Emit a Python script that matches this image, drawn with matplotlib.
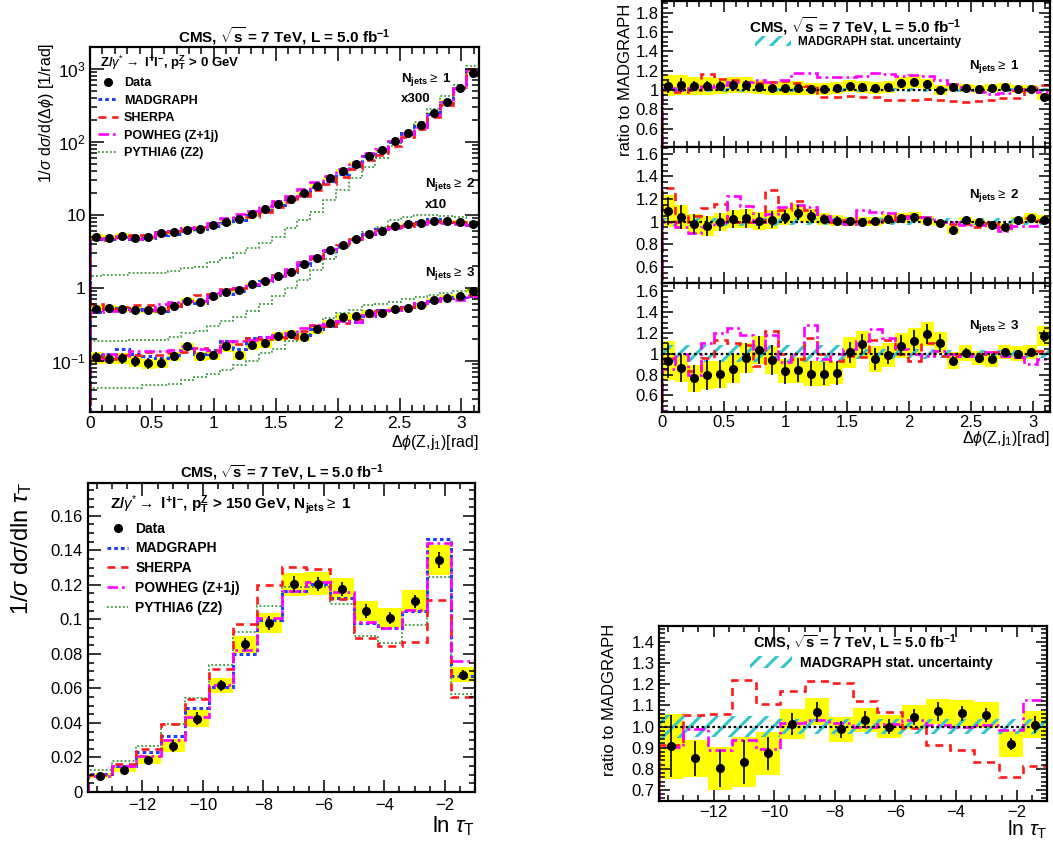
import numpy as np
import matplotlib
matplotlib.use("Agg")
import matplotlib.pyplot as plt
from matplotlib.lines import Line2D
from matplotlib.patches import Patch
from matplotlib.ticker import MultipleLocator, LogLocator, FuncFormatter, NullFormatter, FixedLocator

plt.rcParams['font.family'] = ['Liberation Sans', 'DejaVu Sans']
plt.rcParams['mathtext.fontset'] = 'custom'
plt.rcParams['mathtext.rm'] = 'Liberation Sans'
plt.rcParams['mathtext.it'] = 'Liberation Sans:italic'
plt.rcParams['mathtext.bf'] = 'Liberation Sans:bold'
plt.rcParams['hatch.linewidth'] = 2.2

# ---- delta phi(Z, j1): 30 bins in [0, pi], values as drawn (Njets>=1 x300, >=2 x10)
dphi_data_1j_x300 = [4.94, 4.9, 5.2, 4.8, 5.0, 5.6, 5.8, 6.3, 6.5, 7.2, 7.9, 8.7, 10.2, 11.9, 14.3,
                     16.5, 19.8, 25, 31.6, 40, 50, 63.6, 77, 102, 133, 171, 247, 357, 549, 890]
dphi_data_2j_x10 = [0.515, 0.53, 0.52, 0.50, 0.50, 0.50, 0.575, 0.67, 0.64, 0.78, 0.88, 0.94, 1.12, 1.26, 1.47,
                    1.68, 2.1, 2.6, 3.3, 3.9, 4.7, 5.5, 6.0, 7.0, 7.5, 7.7, 8.3, 8.2, 8.1, 7.5]
dphi_data_3j = [0.112, 0.107, 0.110, 0.100, 0.093, 0.095, 0.116, 0.158, 0.116, 0.12, 0.158, 0.12, 0.167, 0.175, 0.22,
                0.235, 0.215, 0.27, 0.33, 0.40, 0.41, 0.46, 0.46, 0.51, 0.53, 0.58, 0.68, 0.74, 0.77, 0.92]

dphi_pythia_1j_x300 = [1.48, 1.50, 1.52, 1.58, 1.60, 1.62, 1.72, 1.90, 1.96, 2.29, 2.57, 3.0, 3.5, 4.1, 5.0,
                       6.6, 8.5, 11.1, 15.9, 22, 32.6, 45, 61, 87, 132, 190, 280, 420, 600, 1100]
dphi_pythia_2j_x10 = [0.19, 0.19, 0.19, 0.195, 0.195, 0.195, 0.21, 0.24, 0.26, 0.30, 0.35, 0.40, 0.49, 0.60, 0.78,
                      1.0, 1.28, 1.75, 2.5, 3.5, 4.6, 5.9, 6.9, 8.5, 9.5, 10.0, 10.0, 9.8, 9.3, 8.0]
dphi_pythia_3j = [0.042, 0.042, 0.042, 0.042, 0.047, 0.047, 0.049, 0.055, 0.060, 0.067, 0.075, 0.088, 0.10, 0.127, 0.148,
                  0.19, 0.235, 0.30, 0.39, 0.45, 0.50, 0.58, 0.61, 0.65, 0.70, 0.76, 0.80, 0.85, 0.90, 0.94]

# ratios to MadGraph
ratio_data_1j = [1.045, 1.05, 1.045, 1.04, 1.045, 1.05, 1.05, 1.03, 1.02, 1.02, 1.02, 1.01, 1.01, 1.02, 1.045,
                 1.035, 1.02, 1.035, 1.07, 1.085, 1.06, 1.0, 1.03, 1.025, 1.01, 1.02, 1.03, 1.01, 1.01, 0.93]
ratio_sherpa_1j = [1.0, 0.98, 1.0, 1.16, 1.11, 1.10, 1.08, 1.07, 1.08, 1.09, 1.07, 1.04, 0.93, 0.93, 0.94,
                   0.93, 0.93, 0.9, 0.9, 0.9, 0.91, 0.9, 0.89, 0.88, 0.89, 0.9, 0.915, 0.92, 1.03, 1.05]
ratio_powheg_1j = [1.02, 1.0, 1.02, 1.03, 1.05, 1.08, 1.08, 1.1, 1.08, 1.1, 1.18, 1.18, 1.13, 1.13, 1.13,
                   1.14, 1.18, 1.17, 1.14, 1.15, 1.14, 1.10, 1.06, 1.03, 0.98, 0.96, 0.97, 1.0, 1.0, 0.98]

ratio_data_2j = [1.096, 1.04, 0.98, 0.965, 1.0, 1.025, 1.03, 1.01, 1.02, 1.045, 1.08, 1.05, 1.027, 1.01, 1.003,
                 1.0, 1.003, 1.025, 1.033, 1.042, 1.01, 0.99, 0.93, 1.015, 0.997, 0.973, 0.955, 1.015, 1.033, 1.02]
ratio_sherpa_2j = [1.3, 1.0, 1.05, 1.12, 1.16, 1.0, 1.0, 1.0, 1.28, 1.1, 1.18, 1.1, 1.03, 1.0, 1.02,
                   1.01, 1.0, 1.02, 1.05, 1.04, 1.0, 1.0, 0.98, 0.98, 0.95, 0.99, 0.95, 1.0, 1.03, 1.02]
ratio_powheg_2j = [1.0, 0.95, 0.9, 0.95, 1.0, 1.23, 1.14, 1.0, 1.07, 1.13, 1.15, 1.13, 1.05, 1.02, 0.98,
                   1.1, 1.09, 1.08, 1.03, 1.05, 1.04, 1.0, 1.0, 0.97, 0.97, 0.95, 0.92, 0.96, 0.96, 1.0]

ratio_data_3j = [0.934, 0.862, 0.764, 0.797, 0.803, 0.856, 0.96, 1.033, 0.941, 0.836, 0.843, 0.81, 0.81, 0.816, 1.013,
                 1.092, 0.948, 0.987, 1.079, 1.125, 1.19, 1.105, 0.934, 1.007, 0.96, 0.951, 1.016, 1.0, 1.016, 1.17]
ratio_sherpa_3j = [0.96, 0.87, 0.83, 0.96, 1.13, 1.1, 1.08, 0.88, 1.22, 1.0, 0.95, 1.15, 1.0, 0.93, 0.98,
                   0.97, 1.13, 1.13, 1.0, 0.93, 1.1, 0.98, 0.98, 1.0, 1.0, 1.02, 0.98, 0.97, 1.0, 1.03]
ratio_powheg_3j = [0.85, 1.0, 0.8, 1.1, 1.2, 1.25, 1.18, 1.05, 1.18, 0.92, 1.0, 1.28, 0.95, 1.0, 1.05,
                   1.12, 1.24, 1.15, 1.05, 1.0, 0.98, 1.03, 1.0, 0.98, 1.0, 1.02, 0.98, 0.97, 0.9, 0.95]

# relative uncertainties (stat = error bar, tot = yellow box, mg = MadGraph stat hatch)
stat_1j = [0.07, 0.07, 0.05, 0.05, 0.05, 0.05, 0.05, 0.04, 0.04, 0.04, 0.035, 0.03, 0.03, 0.03, 0.03,
           0.03, 0.025, 0.025, 0.025, 0.02, 0.02, 0.02, 0.02, 0.02, 0.015, 0.015, 0.015, 0.015, 0.015, 0.015]
tot_1j = [0.10, 0.10, 0.09, 0.09, 0.08, 0.08, 0.08, 0.07, 0.07, 0.07, 0.07, 0.06, 0.06, 0.06, 0.06,
          0.06, 0.06, 0.06, 0.06, 0.06, 0.05, 0.05, 0.04, 0.04, 0.04, 0.04, 0.04, 0.04, 0.04, 0.04]
mg_1j = [0.025, 0.025, 0.025, 0.025, 0.025, 0.025, 0.025, 0.025, 0.025, 0.025, 0.025, 0.025, 0.025, 0.025, 0.025,
         0.025, 0.025, 0.025, 0.025, 0.025, 0.025, 0.025, 0.025, 0.025, 0.025, 0.025, 0.025, 0.025, 0.025, 0.025]
stat_2j = [0.11, 0.10, 0.09, 0.09, 0.08, 0.08, 0.08, 0.07, 0.07, 0.06, 0.06, 0.05, 0.04, 0.04, 0.04,
           0.035, 0.03, 0.03, 0.03, 0.03, 0.025, 0.025, 0.02, 0.02, 0.02, 0.02, 0.02, 0.02, 0.02, 0.02]
tot_2j = [0.13, 0.10, 0.09, 0.09, 0.08, 0.08, 0.08, 0.08, 0.08, 0.07, 0.07, 0.06, 0.05, 0.05, 0.04,
          0.04, 0.04, 0.04, 0.04, 0.04, 0.04, 0.03, 0.04, 0.03, 0.03, 0.03, 0.04, 0.03, 0.04, 0.04]
mg_2j = [0.035, 0.035, 0.035, 0.035, 0.035, 0.035, 0.035, 0.035, 0.035, 0.03, 0.03, 0.03, 0.03, 0.03, 0.03,
         0.03, 0.03, 0.03, 0.03, 0.03, 0.03, 0.03, 0.03, 0.03, 0.03, 0.03, 0.03, 0.03, 0.03, 0.03]
stat_3j = [0.18, 0.16, 0.17, 0.18, 0.17, 0.16, 0.15, 0.13, 0.15, 0.15, 0.14, 0.15, 0.14, 0.14, 0.10,
           0.09, 0.11, 0.09, 0.09, 0.09, 0.08, 0.08, 0.05, 0.05, 0.05, 0.05, 0.04, 0.04, 0.04, 0.05]
tot_3j = [0.20, 0.15, 0.17, 0.17, 0.16, 0.16, 0.15, 0.13, 0.14, 0.14, 0.15, 0.15, 0.15, 0.13, 0.15,
          0.12, 0.13, 0.12, 0.11, 0.11, 0.10, 0.09, 0.09, 0.08, 0.07, 0.08, 0.07, 0.07, 0.07, 0.08]
mg_3j = [0.08, 0.08, 0.08, 0.08, 0.08, 0.08, 0.08, 0.08, 0.08, 0.08, 0.08, 0.08, 0.08, 0.08, 0.05,
         0.05, 0.05, 0.05, 0.05, 0.05, 0.05, 0.04, 0.04, 0.04, 0.04, 0.04, 0.04, 0.04, 0.04, 0.04]

# ---- ln tau_T: 16 bins in [-13.8, -1.0], pT(Z) > 150 GeV
tau_data = [0.0095, 0.013, 0.0188, 0.0268, 0.0425, 0.0617, 0.0855, 0.098, 0.1204, 0.1206, 0.1175, 0.1047,
            0.1007, 0.1104, 0.1344, 0.0679]
tau_ratio_data = [0.907, 0.849, 0.802, 0.833, 0.873, 1.011, 1.069, 0.986, 1.033, 1.0, 1.046, 1.071,
                  1.063, 1.055, 0.917, 1.008]
tau_ratio_sherpa = [0.915, 1.055, 1.06, 1.22, 1.105, 1.17, 1.215, 1.205, 1.12, 1.07, 0.995, 0.915,
                    0.89, 0.83, 0.76, 0.815]
tau_ratio_powheg = [0.905, 0.99, 0.89, 0.935, 0.895, 1.015, 1.03, 1.015, 1.0, 1.01, 1.03, 1.005,
                    1.0, 1.005, 0.983, 1.127]
tau_pythia = [0.0126, 0.0182, 0.0268, 0.0392, 0.0547, 0.0737, 0.0925, 0.108, 0.119, 0.119, 0.109, 0.0906,
              0.0863, 0.097, 0.1245, 0.057]
tau_stat = [0.16, 0.095, 0.11, 0.125, 0.09, 0.05, 0.045, 0.04, 0.04, 0.035, 0.035, 0.04, 0.033, 0.033, 0.033, 0.04]
tau_tot = [0.17, 0.105, 0.125, 0.14, 0.115, 0.07, 0.06, 0.06, 0.055, 0.056, 0.055, 0.056, 0.057, 0.058, 0.065, 0.063]
tau_mg = [0.055, 0.05, 0.05, 0.05, 0.05, 0.035, 0.035, 0.035, 0.035, 0.035, 0.035, 0.035, 0.035, 0.035, 0.035, 0.035]

dphi_edges = np.linspace(0, np.pi, 31)
tau_edges = np.linspace(-13.8, -1.0, 17)

YELLOW = '#ffff00'
BLUE = '#1f3fff'
RED = '#ff1a1a'
MAGENTA = '#ff00ff'
GREEN = '#3a9a3a'
CYAN = '#33c6cc'
LS_MG = (0, (1.2, 1.0))
LS_SH = (0, (3.0, 2.2))
LS_PW = (0, (4.0, 1.5, 1.0, 1.5))
LS_PY = (0, (1.0, 1.2))
HATCH = '//'

TITLE = r'CMS, $\sqrt{\mathbf{s}}$ = 7 TeV, L = 5.0 fb$^{\mathbf{-1}}$'
MG_NAME = 'MADGRAPH'

W, H = 1053, 841
fig = plt.figure(figsize=(W / 100, H / 100), dpi=100)


def add_ax(x0, y0, x1, y1):
    return fig.add_axes([x0 / W, 1 - y1 / H, (x1 - x0) / W, (y1 - y0) / H])


def root_style(ax, major=8, minor=4, size=11, pad=4):
    ax.tick_params(which='both', direction='in', top=True, right=True, width=1.1, labelsize=size, pad=pad)
    ax.tick_params(which='major', length=major)
    ax.tick_params(which='minor', length=minor)
    for s in ax.spines.values():
        s.set_linewidth(1.6)


def draw_main(ax, edges, data, r_data, r_sh, r_pw, pythia, stat, tot):
    data = np.asarray(data)
    tot = np.asarray(tot)
    mg = data / np.asarray(r_data)
    ax.stairs(data * (1 + tot), edges, baseline=data * (1 - tot), fill=True, color=YELLOW, lw=0)
    ax.stairs(pythia, edges, color=GREEN, ls=LS_PY, lw=1.3)
    ax.stairs(mg, edges, color=BLUE, ls=LS_MG, lw=2.2)
    ax.stairs(mg * np.asarray(r_sh), edges, color=RED, ls=LS_SH, lw=1.9)
    ax.stairs(mg * np.asarray(r_pw), edges, color=MAGENTA, ls=LS_PW, lw=1.9)
    c = 0.5 * (edges[1:] + edges[:-1])
    ax.errorbar(c, data, yerr=data * np.asarray(stat), fmt='o', color='k', ms=5.5,
                elinewidth=1.2, capsize=0, zorder=5)


def draw_ratio(ax, edges, r_data, r_sh, r_pw, stat, tot, mg_unc):
    r = np.asarray(r_data)
    tot = np.asarray(tot)
    u = np.asarray(mg_unc)
    ax.stairs(r * (1 + tot), edges, baseline=r * (1 - tot), fill=True, color=YELLOW, lw=0)
    ax.stairs(1 + u, edges, baseline=1 - u, fill=True, facecolor='none', edgecolor=CYAN, hatch=HATCH, lw=0)
    ax.axhline(1.0, color='k', ls=(0, (1.2, 1.2)), lw=1.6)
    ax.stairs(r_sh, edges, color=RED, ls=LS_SH, lw=1.9)
    ax.stairs(r_pw, edges, color=MAGENTA, ls=LS_PW, lw=1.9)
    c = 0.5 * (edges[1:] + edges[:-1])
    ax.errorbar(c, r, yerr=r * np.asarray(stat), fmt='o', color='k', ms=5.5,
                elinewidth=1.2, capsize=0, zorder=5)


def legend_handles():
    return [Line2D([], [], marker='o', ls='none', color='k', ms=5.5),
            Line2D([], [], color=BLUE, ls=LS_MG, lw=2.2),
            Line2D([], [], color=RED, ls=LS_SH, lw=1.9),
            Line2D([], [], color=MAGENTA, ls=LS_PW, lw=1.9),
            Line2D([], [], color=GREEN, ls=LS_PY, lw=1.3)]


labels = ['Data', MG_NAME, 'SHERPA', 'POWHEG (Z+1j)', 'PYTHIA6 (Z2)']
hatch_handle = Patch(facecolor='none', edgecolor=CYAN, hatch=HATCH, lw=0)


def njets(n):
    return r'N$_{\mathbf{jets}}\geq$ ' + str(n)


# ================= top left: delta phi distributions
ax = add_ax(90, 47, 479, 412)
draw_main(ax, dphi_edges, dphi_data_1j_x300, ratio_data_1j, ratio_sherpa_1j, ratio_powheg_1j,
          dphi_pythia_1j_x300, stat_1j, tot_1j)
draw_main(ax, dphi_edges, dphi_data_2j_x10, ratio_data_2j, ratio_sherpa_2j, ratio_powheg_2j,
          dphi_pythia_2j_x10, stat_2j, tot_2j)
draw_main(ax, dphi_edges, dphi_data_3j, ratio_data_3j, ratio_sherpa_3j, ratio_powheg_3j,
          dphi_pythia_3j, stat_3j, tot_3j)
ax.set_yscale('log')
ax.set_xlim(0, np.pi)
ax.set_ylim(0.02, 2000)
ax.xaxis.set_major_locator(MultipleLocator(0.5))
ax.xaxis.set_minor_locator(MultipleLocator(0.1))
ax.xaxis.set_major_formatter(FuncFormatter(lambda v, p: '%g' % v))
ax.yaxis.set_major_locator(LogLocator(base=10))
ax.yaxis.set_minor_locator(LogLocator(base=10, subs=np.arange(2, 10)))
ax.yaxis.set_minor_formatter(NullFormatter())
ax.yaxis.set_major_formatter(FuncFormatter(
    lambda v, p: {1: '1', 10: '10'}.get(int(round(v)) if v >= 1 else -1, r'$10^{%d}$' % round(np.log10(v)))))
root_style(ax, major=10, minor=5, size=12.5, pad=3)
ax.set_title(TITLE, fontsize=11, fontweight='bold', pad=3)
ax.text(0.026, 0.958, r'Z/$\gamma^{*}\rightarrow$ l$^{\mathbf{+}}$l$^{\mathbf{-}}$, p$_{\mathbf{T}}^{\mathbf{Z}}$ > 0 GeV',
        transform=ax.transAxes, fontsize=9.5, fontweight='bold', va='center')
ax.legend(legend_handles(), labels, loc='upper left', bbox_to_anchor=(0.02, 0.918), frameon=False,
          prop={'weight': 'bold', 'size': 9}, handlelength=1.6, handletextpad=0.5, labelspacing=0.45,
          borderpad=0, borderaxespad=0)
ax.text(0.80, 0.91, njets(1), transform=ax.transAxes, fontsize=9.5, fontweight='bold', va='center')
ax.text(0.80, 0.857, 'x300', transform=ax.transAxes, fontsize=9.5, fontweight='bold', va='center')
ax.text(0.86, 0.622, njets(2), transform=ax.transAxes, fontsize=9.5, fontweight='bold', va='center')
ax.text(0.86, 0.567, 'x10', transform=ax.transAxes, fontsize=9.5, fontweight='bold', va='center')
ax.text(0.86, 0.38, njets(3), transform=ax.transAxes, fontsize=9.5, fontweight='bold', va='center')
fig.text(46 / W, 1 - 113 / H, r'1/$\sigma$ d$\sigma$/d($\Delta\phi$) [1/rad]', rotation=90,
         ha='center', va='center', fontsize=11.5)
fig.text(479 / W, 1 - 442 / H, r'$\Delta\phi$(Z,j$_{1}$)[rad]', ha='right', va='center', fontsize=11.5)

# ================= top right: ratio panels
panels = [(1, 147, (0.41, 1.92), [0.6, 0.8, 1.0, 1.2, 1.4, 1.6, 1.8],
           ratio_data_1j, ratio_sherpa_1j, ratio_powheg_1j, stat_1j, tot_1j, mg_1j),
          (147, 283, (0.46, 1.66), [0.6, 0.8, 1.0, 1.2, 1.4, 1.6],
           ratio_data_2j, ratio_sherpa_2j, ratio_powheg_2j, stat_2j, tot_2j, mg_2j),
          (283, 412, (0.44, 1.68), [0.6, 0.8, 1.0, 1.2, 1.4, 1.6],
           ratio_data_3j, ratio_sherpa_3j, ratio_powheg_3j, stat_3j, tot_3j, mg_3j)]
njet_y = [0.55, 0.647, 0.66]
for i, (y0, y1, ylim, yt, rd, rs, rp, st, to, mu) in enumerate(panels):
    ax = add_ax(662, y0, 1050, y1)
    draw_ratio(ax, dphi_edges, rd, rs, rp, st, to, mu)
    ax.set_xlim(0, np.pi)
    ax.set_ylim(*ylim)
    ax.yaxis.set_major_locator(FixedLocator(yt))
    ax.yaxis.set_minor_locator(MultipleLocator(0.05))
    ax.yaxis.set_major_formatter(FuncFormatter(lambda v, p: '%g' % round(v, 2)))
    ax.xaxis.set_major_locator(MultipleLocator(0.5))
    ax.xaxis.set_minor_locator(MultipleLocator(0.1))
    ax.xaxis.set_major_formatter(FuncFormatter(lambda v, p: '%g' % v))
    root_style(ax, major=8, minor=4, size=12, pad=2.5)
    if i < 2:
        ax.tick_params(labelbottom=False)
    ax.text(0.79, njet_y[i], njets(i + 1), transform=ax.transAxes, fontsize=9.5,
            fontweight='bold', va='center')
    if i == 0:
        ax.text(0.497, 0.83, TITLE, transform=ax.transAxes, fontsize=11, fontweight='bold',
                ha='center', va='center')
        ax.legend([hatch_handle], [MG_NAME + ' stat. uncertainty'], loc='center left',
                  bbox_to_anchor=(0.24, 0.72), frameon=False, prop={'weight': 'bold', 'size': 8.5},
                  handlelength=3.0, handleheight=1.0, handletextpad=0.6, borderpad=0, borderaxespad=0)
fig.text(626 / W, 1 - 80 / H, 'ratio to ' + MG_NAME, rotation=90, ha='center', va='center', fontsize=12)
fig.text(1050 / W, 1 - 439 / H, r'$\Delta\phi$(Z,j$_{1}$)[rad]', ha='right', va='center', fontsize=11.5)

# ================= bottom left: ln tau_T
ax = add_ax(88, 483, 475, 792)
draw_main(ax, tau_edges, tau_data, tau_ratio_data, tau_ratio_sherpa, tau_ratio_powheg,
          tau_pythia, tau_stat, tau_tot)
ax.set_xlim(-13.8, -1.0)
ax.set_ylim(0, 0.179)
ax.xaxis.set_major_locator(FixedLocator([-12, -10, -8, -6, -4, -2]))
ax.xaxis.set_minor_locator(MultipleLocator(0.5))
ax.yaxis.set_major_locator(MultipleLocator(0.02))
ax.yaxis.set_minor_locator(MultipleLocator(0.005))
ax.yaxis.set_major_formatter(FuncFormatter(lambda v, p: '%g' % round(v, 3)))
root_style(ax, major=9, minor=4.5, size=12)
ax.set_title(TITLE, fontsize=10.5, fontweight='bold', pad=3)
ax.text(0.057, 0.929,
        r'Z/$\gamma^{*}\rightarrow$ l$^{\mathbf{+}}$l$^{\mathbf{-}}$, p$_{\mathbf{T}}^{\mathbf{Z}}$ > 150 GeV, '
        + njets(1), transform=ax.transAxes, fontsize=11, fontweight='bold', va='center')
ax.legend(legend_handles(), labels, loc='upper left', bbox_to_anchor=(0.05, 0.875), frameon=False,
          prop={'weight': 'bold', 'size': 10}, handlelength=1.5, handletextpad=0.5, labelspacing=0.42,
          borderpad=0, borderaxespad=0)
fig.text(22 / W, 1 - 548 / H, r'1/$\sigma$ d$\sigma$/dln $\tau_{\mathrm{T}}$', rotation=90,
         ha='center', va='center', fontsize=17)
fig.text(475 / W, 1 - 826 / H, r'ln $\tau_{\mathrm{T}}$', ha='right', va='center', fontsize=16)

# ================= bottom right: ln tau_T ratio
ax = add_ax(659, 626, 1047, 801)
draw_ratio(ax, tau_edges, tau_ratio_data, tau_ratio_sherpa, tau_ratio_powheg, tau_stat, tau_tot, tau_mg)
ax.set_xlim(-13.8, -1.0)
ax.set_ylim(0.648, 1.475)
ax.xaxis.set_major_locator(FixedLocator([-12, -10, -8, -6, -4, -2]))
ax.xaxis.set_minor_locator(MultipleLocator(0.5))
ax.yaxis.set_major_locator(MultipleLocator(0.1))
ax.yaxis.set_minor_locator(MultipleLocator(0.02))
ax.yaxis.set_major_formatter(FuncFormatter(lambda v, p: '%.1f' % v))
root_style(ax, major=8, minor=4, size=12, pad=3)
ax.text(0.505, 0.903, TITLE, transform=ax.transAxes, fontsize=10.5, fontweight='bold',
        ha='center', va='center')
ax.legend([hatch_handle], [MG_NAME + ' stat. uncertainty'], loc='center left',
          bbox_to_anchor=(0.235, 0.79), frameon=False, prop={'weight': 'bold', 'size': 10},
          handlelength=3.0, handleheight=1.0, handletextpad=0.6, borderpad=0, borderaxespad=0)
fig.text(609 / W, 1 - 700 / H, 'ratio to ' + MG_NAME, rotation=90, ha='center', va='center', fontsize=12)
fig.text(1047 / W, 1 - 830 / H, r'ln $\tau_{\mathrm{T}}$', ha='right', va='center', fontsize=15)

fig.savefig('out.png', dpi=100)
